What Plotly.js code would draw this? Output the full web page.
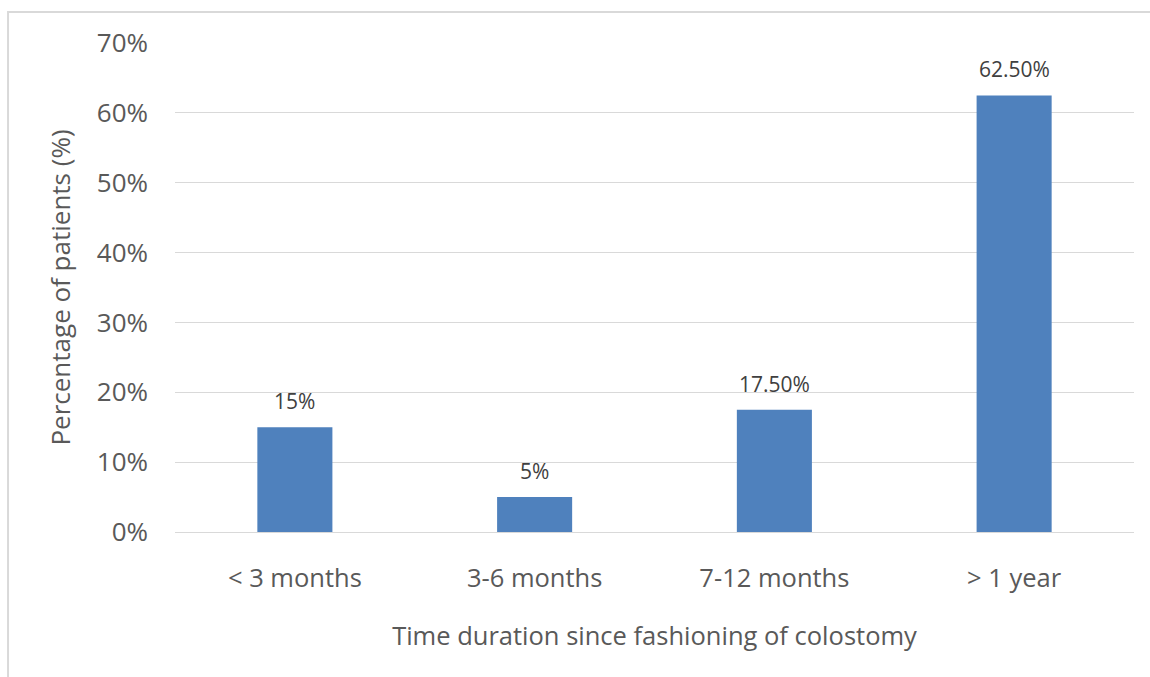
<!DOCTYPE html>
<html>
<head>
<meta charset="utf-8">
<script src="https://cdn.plot.ly/plotly-3.0.1.min.js"></script>
<style>
html,body{margin:0;padding:0;background:#fff;}
#chart{width:1150px;height:677px;}
</style>
</head>
<body>
<div id="chart"></div>
<script>
const categories = ["< 3 months", "3-6 months", "7-12 months", "> 1 year"];
const values = [15, 5, 17.5, 62.5];
const valueLabels = ["15%", "5%", "17.50%", "62.50%"];
const yTickVals = [0, 10, 20, 30, 40, 50, 60, 70];
const yTickText = ["0%", "10%", "20%", "30%", "40%", "50%", "60%", "70%"];

const trace = {
  type: "bar",
  x: categories,
  y: values,
  marker: {color: "#4F81BD"},
  hoverinfo: "skip"
};

const annotations = categories.map((c, i) => ({
  x: c, y: values[i], xref: "x", yref: "y",
  text: valueLabels[i], showarrow: false,
  yanchor: "bottom", yshift: 10,
  font: {family: "Open Sans", size: 21, color: "#404040"}
}));

const layout = {
  width: 1150, height: 677,
  margin: {l: 175, r: 16, t: 43, b: 145},
  paper_bgcolor: "#fff", plot_bgcolor: "#fff",
  showlegend: false,
  bargap: 0.687,
  font: {family: "Open Sans", color: "#595959"},
  xaxis: {
    type: "category",
    showgrid: false, ticks: "", showline: false,
    tickfont: {size: 25.5, color: "#595959"},
    ticklabelstandoff: 28,
    title: {text: "Time duration since fashioning of colostomy", font: {size: 25.5, color: "#595959"}, standoff: 34},
    automargin: false
  },
  yaxis: {
    range: [0, 70],
    tickvals: yTickVals, ticktext: yTickText,
    showgrid: true, gridcolor: "#D9D9D9", gridwidth: 1,
    zeroline: true, zerolinecolor: "#D9D9D9", zerolinewidth: 1,
    ticks: "", showline: false,
    tickfont: {size: 26, color: "#595959"},
    ticklabelstandoff: 26,
    title: {text: "Percentage of patients (%)", font: {size: 26, color: "#595959"}, standoff: 18},
    automargin: false
  },
  annotations: annotations,
  shapes: [{
    type: "rect", xref: "paper", yref: "paper",
    x0: -0.1741, x1: 1.2, y0: -0.5, y1: 1.0634,
    line: {color: "#D9D9D9", width: 2}, fillcolor: "rgba(0,0,0,0)", layer: "below"
  }]
};

Plotly.newPlot("chart", [trace], layout, {displayModeBar: false, staticPlot: true});
</script>
</body>
</html>
